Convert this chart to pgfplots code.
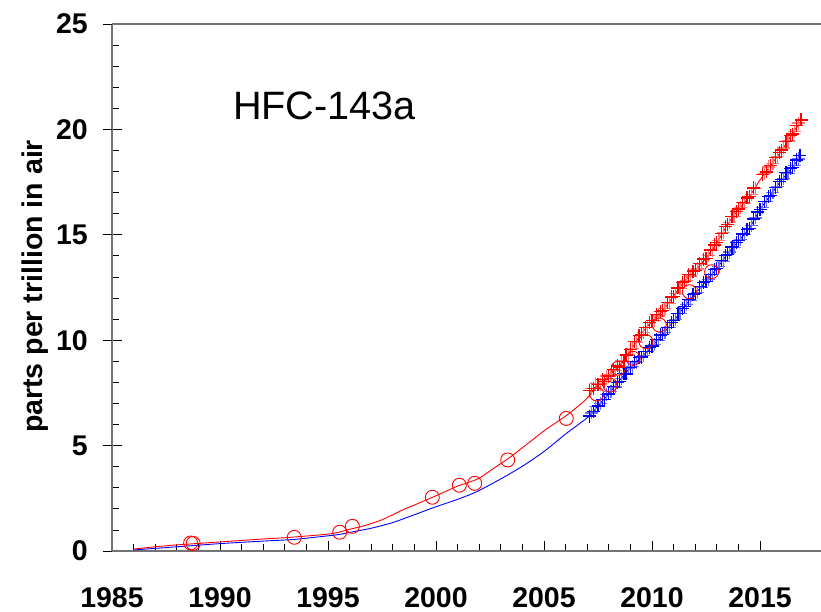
\documentclass[border=0pt]{standalone}
\usepackage{pgfplots}
\pgfplotsset{compat=1.18}
\usepackage{fontspec}
\setmainfont{Liberation Sans}
\definecolor{lightred}{RGB}{255,120,120}
\definecolor{lightblue}{RGB}{110,110,255}
\begin{document}
\begin{tikzpicture}
\begin{axis}[
  x=21.6pt, y=21.08pt,
  xmin=1985, xmax=2017.82, ymin=0, ymax=25,
  axis x line*=box, axis y line*=left,
  axis line style={draw=black!55, line width=1.3pt},
  xtick={1985,1990,...,2015}, ytick={0,5,...,25},
  minor x tick num=4, minor y tick num=4,
  xtick pos=left, ytick pos=left,
  tick align=inside,
  major tick length=10pt, minor tick length=7pt,
  tick style={black, line width=0.8pt},
  extra y ticks={0,5,10,15,20,25}, extra y tick labels={},
  extra y tick style={tick align=outside, major tick length=9pt},
  tick label style={font=\fontsize{28.5}{30}\selectfont\bfseries},
  /pgf/number format/assume math mode=true,
  /pgf/number format/1000 sep={},
  xticklabel style={anchor=north, inner sep=0pt, yshift=-36pt},
  yticklabel style={anchor=east, inner sep=0pt, xshift=-24pt},
  clip=false,
]
% smooth lines
\addplot[color=blue, line width=0.9pt, smooth, tension=0.4, mark=none] coordinates {
(1986.0,0.05) (1988.0,0.20) (1990.0,0.35) (1992.0,0.47) (1993.44,0.55)
(1995.0,0.72) (1995.5,0.78) (1996.0,0.88) (1997.0,1.08) (1998.0,1.35)
(1999.0,1.72) (2000.0,2.10) (2001.0,2.45) (2001.9,2.82) (2003.0,3.42)
(2004.0,4.02) (2005.0,4.72) (2006.0,5.55) (2007.1,6.40) (2007.5,6.90)
(2008.0,7.45) (2008.5,8.10) (2009.0,8.70) (2009.5,9.20) (2010.0,9.70)
(2010.5,10.30) (2011.0,10.90) (2011.5,11.60) (2012.0,12.20) (2012.5,12.80)
(2013.0,13.40) (2013.5,14.10) (2014.0,14.70) (2014.5,15.30) (2015.0,16.20)
(2015.5,16.90) (2016.0,17.60) (2016.5,18.20) (2016.85,18.70)
};
\addplot[color=red, line width=0.9pt, smooth, tension=0.4, mark=none] coordinates {
(1986.0,0.09) (1987.0,0.20) (1988.0,0.29) (1989.0,0.36) (1990.0,0.43)
(1991.0,0.50) (1992.0,0.57) (1993.0,0.63) (1994.0,0.71) (1995.0,0.80)
(1995.5,0.89) (1996.0,1.03) (1996.5,1.15) (1997.0,1.30) (1997.5,1.48)
(1998.0,1.72) (1998.5,1.97) (1999.0,2.18) (1999.5,2.40) (2000.0,2.62)
(2000.5,2.85) (2001.0,3.08) (2001.5,3.25) (2002.0,3.45) (2002.5,3.80)
(2003.0,4.15) (2003.5,4.50) (2004.0,4.90) (2004.5,5.30) (2005.0,5.70)
(2005.5,6.05) (2006.0,6.40) (2006.5,6.80) (2007.0,7.25) (2007.5,7.90)
(2008.0,8.30) (2008.5,8.80) (2009.0,9.50) (2009.5,10.30) (2010.0,10.90)
(2010.5,11.40) (2011.0,12.10) (2011.5,12.80) (2012.0,13.30) (2012.5,13.90)
(2013.0,14.60) (2013.5,15.50) (2014.0,16.20) (2014.5,16.80) (2015.0,17.60)
(2015.5,18.30) (2016.0,19.00) (2016.5,19.80) (2016.9,20.40)
};
% light crosses
\addplot[color=lightblue, only marks, mark=+, mark size=6.5pt, mark options={color=lightblue, line width=1.2pt}] coordinates {
(2007.2,6.55) (2007.4,6.85) (2007.6,6.98) (2007.9,7.42) (2008.1,7.55) (2008.3,7.78)
(2008.6,8.20) (2008.9,8.65) (2009.1,8.76) (2009.3,8.95) (2009.6,9.26) (2009.8,9.45)
(2010.1,9.78) (2010.3,10.00) (2010.6,10.38) (2010.8,10.60) (2011.1,11.00) (2011.3,11.25)
(2011.6,11.68) (2011.8,11.90) (2012.1,12.28) (2012.3,12.50) (2012.6,12.88) (2012.8,13.10)
(2013.1,13.50) (2013.3,13.75) (2013.6,14.18) (2013.8,14.40) (2014.1,14.78) (2014.3,15.00)
(2014.6,15.45) (2014.8,15.80) (2015.1,16.30) (2015.3,16.58) (2015.6,17.00) (2015.8,17.28)
(2016.1,17.68) (2016.3,17.92) (2016.6,18.30) (2016.8,18.60)
};
\addplot[color=lightred, only marks, mark=+, mark size=6.5pt, mark options={color=lightred, line width=1.2pt}] coordinates {
(2007.2,7.72) (2007.4,7.95) (2007.6,7.92) (2007.9,8.30) (2008.1,8.35) (2008.3,8.55)
(2008.6,9.02) (2008.9,9.30) (2009.1,9.60) (2009.3,9.90) (2009.6,10.38) (2009.8,10.60)
(2010.1,10.95) (2010.3,11.15) (2010.6,11.50) (2010.8,11.75) (2011.1,12.20) (2011.3,12.45)
(2011.6,12.85) (2011.8,13.05) (2012.1,13.38) (2012.3,13.60) (2012.6,14.00) (2012.8,14.25)
(2013.1,14.72) (2013.3,15.10) (2013.6,15.60) (2013.8,15.85) (2014.1,16.28) (2014.3,16.50)
(2014.6,16.92) (2014.8,17.20) (2015.2,17.92) (2015.4,18.22) (2015.6,18.40) (2015.8,18.70)
(2016.1,19.12) (2016.3,19.45) (2016.6,19.90) (2016.8,20.30)
};
% solid crosses
\addplot[color=blue, only marks, mark=+, mark size=6.5pt, mark options={color=blue, line width=1.2pt}] coordinates {
(2007.1,6.40) (2007.3,6.60) (2007.5,6.88) (2007.7,7.20) (2007.8,7.18) (2008.0,7.45)
(2008.2,7.80) (2008.4,8.00) (2008.5,8.05) (2008.7,8.42) (2008.8,8.40) (2009.0,8.70)
(2009.2,8.98) (2009.4,9.18) (2009.5,9.20) (2009.7,9.48) (2009.9,9.66) (2010.0,9.72)
(2010.2,10.04) (2010.4,10.25) (2010.5,10.28) (2010.7,10.62) (2010.9,10.85) (2011.0,10.92)
(2011.2,11.28) (2011.4,11.52) (2011.5,11.58) (2011.7,11.92) (2011.9,12.15) (2012.0,12.22)
(2012.2,12.54) (2012.4,12.75) (2012.5,12.78) (2012.7,13.12) (2012.9,13.35) (2013.0,13.42)
(2013.2,13.78) (2013.4,14.02) (2013.5,14.08) (2013.7,14.42) (2013.9,14.65) (2014.0,14.72)
(2014.2,15.04) (2014.4,15.25) (2014.5,15.30) (2014.7,15.75) (2014.9,16.08) (2015.0,16.20)
(2015.2,16.58) (2015.4,16.82) (2015.5,16.88) (2015.7,17.25) (2015.9,17.52) (2016.0,17.62)
(2016.2,17.94) (2016.4,18.15) (2016.5,18.20) (2016.7,18.55) (2016.85,18.75)
};
\addplot[color=red, only marks, mark=+, mark size=6.5pt, mark options={color=red, line width=1.2pt}] coordinates {
(2007.1,7.60) (2007.3,7.70) (2007.5,7.88) (2007.7,8.12) (2007.8,8.05) (2008.0,8.30)
(2008.2,8.62) (2008.4,8.78) (2008.5,8.72) (2008.7,9.00) (2008.8,9.30) (2009.0,9.55)
(2009.2,9.92) (2009.4,10.22) (2009.5,10.25) (2009.7,10.62) (2009.9,10.85) (2010.0,10.92)
(2010.2,11.22) (2010.4,11.38) (2010.5,11.40) (2010.7,11.78) (2010.9,12.05) (2011.0,12.08)
(2011.2,12.48) (2011.4,12.72) (2011.5,12.78) (2011.7,13.10) (2011.9,13.28) (2012.0,13.32)
(2012.2,13.65) (2012.4,13.85) (2012.5,13.88) (2012.7,14.28) (2012.9,14.52) (2013.0,14.62)
(2013.2,15.05) (2013.4,15.40) (2013.5,15.48) (2013.7,15.88) (2013.9,16.12) (2014.0,16.22)
(2014.2,16.55) (2014.4,16.75) (2014.5,16.80) (2014.7,17.22) (2015.1,17.85) (2015.3,17.98)
(2015.5,18.30) (2015.7,18.65) (2015.9,18.92) (2016.0,19.02) (2016.2,19.42) (2016.4,19.72)
(2016.5,19.78) (2016.7,20.20) (2016.9,20.45)
};
% circles
\addplot[color=red, only marks, mark=o, mark size=7pt, mark options={color=red, line width=0.9pt}] coordinates {
(1988.64,0.38) (1988.76,0.36) (1993.44,0.65) (1995.54,0.89) (1996.13,1.17)
(1999.83,2.55) (2001.08,3.12) (2001.79,3.21) (2003.32,4.32) (2006.03,6.29)
(2007.44,7.45) (2008.06,7.87) (2008.44,8.67) (2009.13,9.14) (2009.72,9.93)
(2010.34,10.72) (2011.73,12.30) (2012.76,13.25)
};
\node[anchor=base west, inner sep=0pt, font=\fontsize{39.6}{42}\selectfont] at (axis cs:1990.6,20.45) {HFC-143a};
\node[rotate=90, anchor=north, inner sep=0pt, font=\fontsize{28.5}{30}\selectfont\bfseries] at (axis cs:1980.82,12.55) {parts per trillion in air};
\coordinate (bl) at (axis cs:1979.8148,-2.8937);
\coordinate (tr) at (axis cs:2017.824,26.1385);
\end{axis}
\pgfresetboundingbox
\useasboundingbox (bl) rectangle (tr);
\end{tikzpicture}
\end{document}
